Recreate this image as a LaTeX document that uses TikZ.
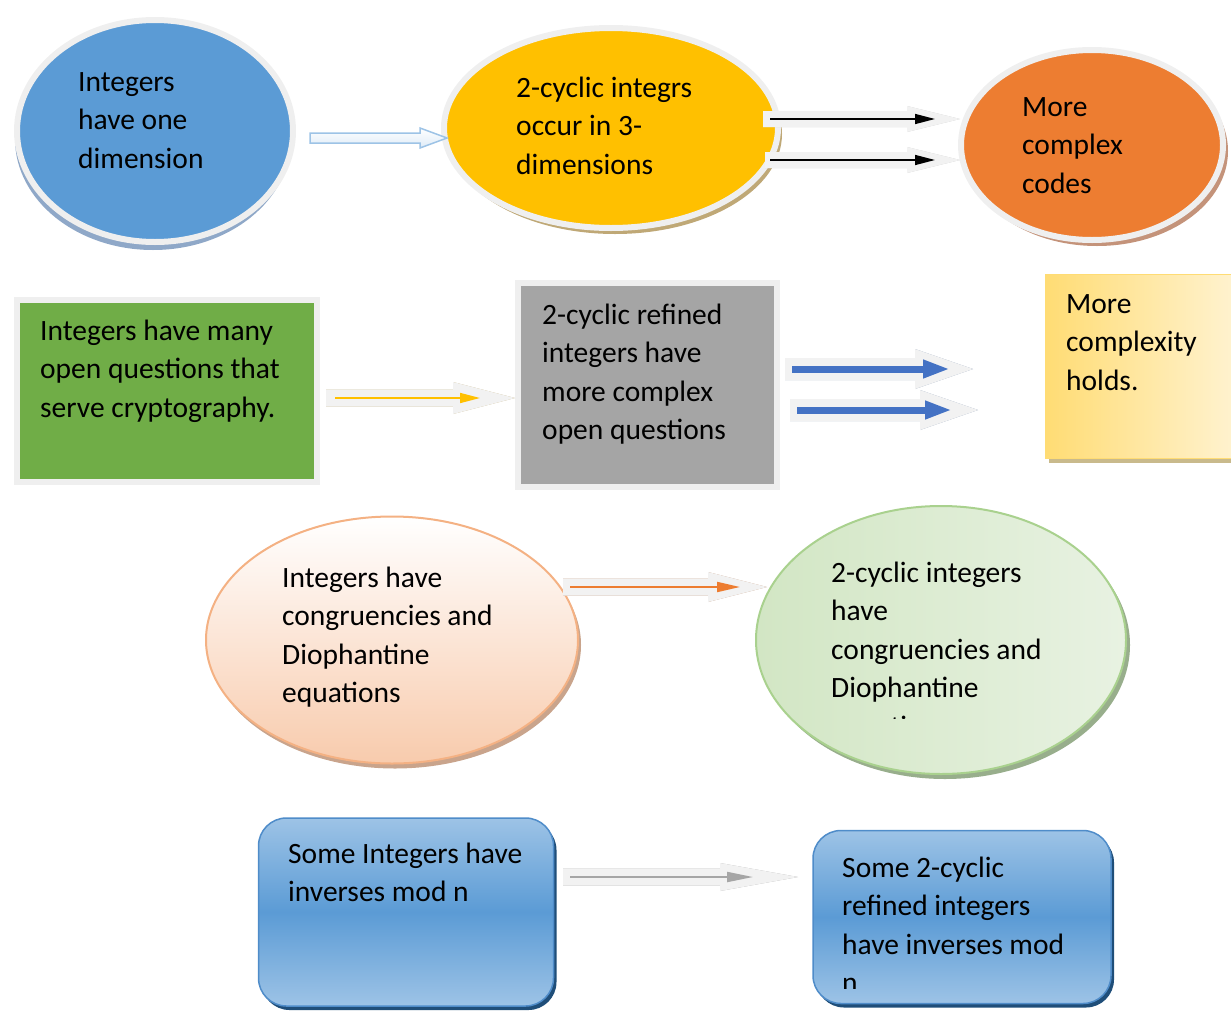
\documentclass[tikz,border=0pt]{standalone}
\usepackage{fontspec}
\setmainfont{Carlito}
\usetikzlibrary{shapes.geometric,arrows.meta,calc,shadows}
\definecolor{halo}{HTML}{EFEFEF}
\definecolor{dimblue}{HTML}{5B9BD5}
\definecolor{dimshade}{HTML}{8FA8C8}
\definecolor{cycgold}{HTML}{FFC000}
\definecolor{cycshade}{HTML}{BFA876}
\definecolor{codeorange}{HTML}{ED7D31}
\definecolor{codeshade}{HTML}{C4937A}
\definecolor{qgreen}{HTML}{70AD47}
\definecolor{qgray}{HTML}{A5A5A5}
\definecolor{panelshade}{HTML}{D4D4D4}
\definecolor{holdsin}{HTML}{FFF3D2}
\definecolor{holdsout}{HTML}{FFDC74}
\definecolor{holdsshade}{HTML}{C9BA8C}
\definecolor{peach}{HTML}{F8CBAD}
\definecolor{peachline}{HTML}{F4B183}
\definecolor{peachshade}{HTML}{C9A48C}
\definecolor{mintl}{HTML}{D2E6C4}
\definecolor{mintr}{HTML}{E8F2E2}
\definecolor{mintline}{HTML}{A9D18E}
\definecolor{mintshade}{HTML}{98AE8C}
\definecolor{tilelight}{HTML}{9DC3E6}
\definecolor{tiledark}{HTML}{5B9BD5}
\definecolor{tileline}{HTML}{4F8CC9}
\definecolor{tileshade}{HTML}{1F4E79}
\definecolor{arrowfill}{HTML}{F2F2F2}
\definecolor{arrowline}{HTML}{9DC3E6}
\definecolor{arrowpale}{HTML}{DEEBF7}
\definecolor{greyshade}{HTML}{C8C8C8}
\definecolor{tanshade}{HTML}{C4B382}
\definecolor{slateshade}{HTML}{8FA0B8}
\definecolor{brownshade}{HTML}{C39B7F}
\definecolor{darkgreyshade}{HTML}{AAAAAA}
\definecolor{pointblue}{HTML}{4472C4}
\definecolor{pointgrey}{HTML}{A6A6A6}

\newcommand\bigarrow[6]{\path[#1] let \p1=(#2), \p2=(#3) in
  (\x1,{\y1+#4}) -- ({\x2-#6},{\y1+#4}) -- ({\x2-#6},{\y1+#5}) -- (\x2,\y1)
  -- ({\x2-#6},{\y1-#5}) -- ({\x2-#6},{\y1-#4}) -- (\x1,{\y1-#4}) -- cycle;}

\begin{document}
\begin{tikzpicture}[x=1pt,y=-1pt,
    txt/.style={font=\fontsize{29.5}{38.5}\selectfont, align=left, inner sep=0pt, anchor=base west},
    oval/.style={ellipse, inner sep=0pt, draw=halo, line width=6pt},
    panel/.style={rectangle, inner sep=0pt, draw=halo, line width=6pt},
    tile/.style={rectangle, rounded corners=28pt, inner sep=0pt, draw=tileline, line width=1.5pt,
      top color=tilelight, bottom color=tilelight, middle color=tiledark,
      drop shadow={shadow xshift=3pt, shadow yshift=-4pt, fill=tileshade, opacity=1}}]
  \useasboundingbox (0,0) rectangle (1231,1012);

  \node[oval, fill=dimblue, minimum width=276pt, minimum height=222pt,
    drop shadow={shadow xshift=-2pt, shadow yshift=-8pt, fill=dimshade, opacity=1}] (dim) at (155,131) {};
  \node[oval, fill=cycgold, minimum width=334pt, minimum height=200pt,
    drop shadow={shadow xshift=4pt, shadow yshift=-6pt, fill=cycshade, opacity=1}] (cyc3) at (611,128) {};
  \node[oval, fill=codeorange, minimum width=262pt, minimum height=190pt,
    drop shadow={shadow xshift=5pt, shadow yshift=-6pt, fill=codeshade, opacity=1}] (codes) at (1092,145) {};

  \node[panel, fill=qgreen, minimum width=300pt, minimum height=182pt,
    drop shadow={shadow xshift=3pt, shadow yshift=-3pt, fill=panelshade, opacity=1}] (openq) at (167,391) {};
  \node[panel, fill=qgray, minimum width=259pt, minimum height=204pt,
    drop shadow={shadow xshift=3pt, shadow yshift=-3pt, fill=panelshade, opacity=1}] (refq) at (647,385) {};
  \node[rectangle, inner sep=0pt, draw=holdsout, line width=1pt, minimum width=195pt, minimum height=184pt,
    left color=holdsout, right color=holdsin,
    drop shadow={shadow xshift=3pt, shadow yshift=-5pt, fill=holdsshade, opacity=1}] (holds) at (1143,366) {};

  \node[ellipse, inner sep=0pt, draw=peachline, line width=2pt, minimum width=372pt, minimum height=247pt,
    top color=white, bottom color=peach,
    drop shadow={shadow xshift=3pt, shadow yshift=-5pt, fill=peachshade, opacity=1}] (congr) at (392,640) {};
  \node[ellipse, inner sep=0pt, draw=mintline, line width=2pt, minimum width=370pt, minimum height=268pt,
    left color=mintl, right color=mintr,
    drop shadow={shadow xshift=4pt, shadow yshift=-5pt, fill=mintshade, opacity=1}] (cyccongr) at (941,640) {};

  \node[tile, minimum width=295pt, minimum height=188pt] (invn) at (406,912) {};
  \node[tile, minimum width=298pt, minimum height=173pt] (cycinvn) at (962,917) {};

  \node[txt] (dimtxt) at (78,168) {Integers\\have one\\dimension};
  \node[txt] (cyc3txt) at (516,174) {2-cyclic integrs\\occur in 3-\\dimensions};
  \node[txt] (codestxt) at (1022,193) {More\\complex\\codes};
  \node[txt] (openqtxt) at (40,417) {Integers have many\\open questions that\\serve cryptography.};
  \node[txt] (refqtxt) at (542,439.5) {2-cyclic refined\\integers have\\more complex\\open questions};
  \node[txt] (holdstxt) at (1066,390) {More\\complexity\\holds.};
  \node[txt] (congrtxt) at (282,702.5) {Integers have\\congruencies and\\Diophantine\\equations};
  \begin{scope}
    \clip (760,520) rectangle (1120,718.5);
    \node[txt] (cyccongrtxt) at (831,736) {2-cyclic integers\\have\\congruencies and\\Diophantine\\equations};
  \end{scope}
  \node[txt] (invntxt) at (288,901.5) {Some Integers have\\inverses mod n};
  \begin{scope}
    \clip (820,840) rectangle (1100,988);
    \node[txt] (cycinvntxt) at (842,992.5) {Some 2-cyclic\\refined integers\\have inverses mod\\n};
  \end{scope}

  \coordinate (p1) at (310,138);
  \coordinate (q1) at (447,138);
  \coordinate (p2) at (763,119);
  \coordinate (q2) at (960,119);
  \coordinate (p3) at (765,160);
  \coordinate (q3) at (960,160);
  \coordinate (p4) at (326,398);
  \coordinate (q4) at (515,398);
  \coordinate (p5) at (785,369);
  \coordinate (q5) at (973,369);
  \coordinate (p6) at (790,410);
  \coordinate (q6) at (978,410);
  \coordinate (p7) at (563,587);
  \coordinate (q7) at (767,587);
  \coordinate (p8) at (563,877);
  \coordinate (q8) at (798,877);

  \bigarrow{fill=dimshade, shift={(3,8)}}{p1}{q1}{5pt}{10pt}{27pt}
  \bigarrow{draw=arrowline, line width=1.5pt, top color=white, bottom color=arrowpale}{p1}{q1}{5pt}{10pt}{27pt}

  \bigarrow{fill=greyshade, shift={(3,7)}}{p2}{q2}{8pt}{13pt}{53pt}
  \bigarrow{fill=arrowfill}{p2}{q2}{8pt}{13pt}{53pt}
  \bigarrow{fill=greyshade, shift={(3,7)}}{p3}{q3}{8pt}{13pt}{53pt}
  \bigarrow{fill=arrowfill}{p3}{q3}{8pt}{13pt}{53pt}
  \draw[black, line width=1.5pt, -{Triangle[length=20pt,width=10pt]}] ([xshift=7pt]p2) -- ([xshift=-25pt]q2);
  \draw[black, line width=1.5pt, -{Triangle[length=20pt,width=10pt]}] ([xshift=5pt]p3) -- ([xshift=-25pt]q3);

  \bigarrow{fill=tanshade, shift={(3,7)}}{p4}{q4}{8.5pt}{16pt}{62pt}
  \bigarrow{fill=arrowfill}{p4}{q4}{8.5pt}{16pt}{62pt}
  \draw[cycgold, line width=1.5pt, -{Triangle[length=20pt,width=10pt]}] ([xshift=9pt]p4) -- ([xshift=-35pt]q4);

  \bigarrow{fill=slateshade, shift={(3,7)}}{p5}{q5}{11pt}{20pt}{58pt}
  \bigarrow{fill=arrowfill}{p5}{q5}{11pt}{20pt}{58pt}
  \bigarrow{fill=slateshade, shift={(3,7)}}{p6}{q6}{11pt}{20pt}{58pt}
  \bigarrow{fill=arrowfill}{p6}{q6}{11pt}{20pt}{58pt}
  \draw[pointblue, line width=7pt, -{Triangle[length=27pt,width=17pt]}] ([xshift=7pt]p5) -- ([xshift=-23pt]q5);
  \draw[pointblue, line width=7pt, -{Triangle[length=27pt,width=17pt]}] ([xshift=7pt]p6) -- ([xshift=-26pt]q6);

  \bigarrow{fill=brownshade, shift={(2,7)}}{p7}{q7}{8.5pt}{15pt}{59pt}
  \bigarrow{fill=arrowfill}{p7}{q7}{8.5pt}{15pt}{59pt}
  \draw[codeorange, line width=2pt, -{Triangle[length=23pt,width=10pt]}] ([xshift=7pt]p7) -- ([xshift=-27pt]q7);

  \bigarrow{fill=darkgreyshade, shift={(2,8)}}{p8}{q8}{8.5pt}{14pt}{78pt}
  \bigarrow{fill=arrowfill}{p8}{q8}{8.5pt}{14pt}{78pt}
  \draw[pointgrey, line width=2pt, -{Triangle[length=26pt,width=10pt]}] ([xshift=7pt]p8) -- ([xshift=-45pt]q8);
\end{tikzpicture}
\end{document}
